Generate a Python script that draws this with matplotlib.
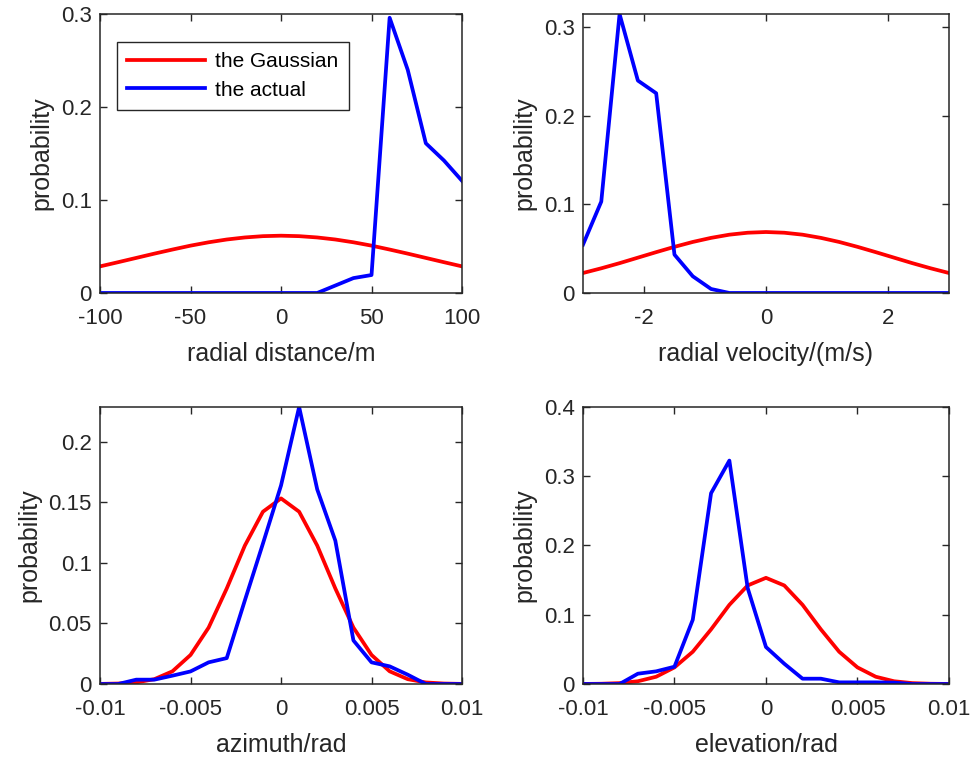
import numpy as np
import matplotlib.pyplot as plt
from matplotlib.ticker import FormatStrFormatter

plt.rcParams['font.family'] = ['Liberation Sans', 'DejaVu Sans']
plt.rcParams['axes.unicode_minus'] = False

# radial distance (m)
dist_x = [-100, -90, -80, -70, -60, -50, -40, -30, -20, -10, 0,
          10, 20, 30, 40, 50, 60, 70, 80, 90, 100]
dist_gauss = [0.0286, 0.0331, 0.0377, 0.0423, 0.0467, 0.0509, 0.0545, 0.0575, 0.0597, 0.0611, 0.0616,
              0.0611, 0.0597, 0.0575, 0.0545, 0.0509, 0.0467, 0.0423, 0.0377, 0.0331, 0.0286]
dist_actual = [0, 0, 0, 0, 0, 0, 0, 0, 0, 0, 0,
               0, 0, 0.008, 0.016, 0.0193, 0.296, 0.240, 0.161, 0.1425, 0.1206]

# radial velocity (m/s)
vel_x = [-3.0, -2.7, -2.4, -2.1, -1.8, -1.5, -1.2, -0.9, -0.6, -0.3, 0.0,
         0.3, 0.6, 0.9, 1.2, 1.5, 1.8, 2.1, 2.4, 2.7, 3.0]
vel_gauss = [0.0225, 0.0278, 0.0336, 0.0398, 0.0460, 0.0520, 0.0575, 0.0621, 0.0657, 0.0679, 0.0687,
             0.0679, 0.0657, 0.0621, 0.0575, 0.0520, 0.0460, 0.0398, 0.0336, 0.0278, 0.0225]
vel_actual = [0.0544, 0.103, 0.3144, 0.2394, 0.2251, 0.0432, 0.0188, 0.0045, 0, 0, 0,
              0, 0, 0, 0, 0, 0, 0, 0, 0, 0]

# angles (rad)
ang_x = [-0.010, -0.009, -0.008, -0.007, -0.006, -0.005, -0.004, -0.003, -0.002, -0.001, 0.0,
         0.001, 0.002, 0.003, 0.004, 0.005, 0.006, 0.007, 0.008, 0.009, 0.010]
ang_gauss = [0.0001, 0.0004, 0.0013, 0.0040, 0.0105, 0.0240, 0.0466, 0.0789, 0.1143, 0.1423, 0.1533,
             0.1423, 0.1143, 0.0789, 0.0466, 0.0240, 0.0105, 0.0040, 0.0013, 0.0004, 0.0001]
azi_actual = [0, 0, 0.0036, 0.0036, 0.0069, 0.0104, 0.0179, 0.0214, 0.069, 0.116, 0.164,
              0.2288, 0.1607, 0.1184, 0.036, 0.0179, 0.0146, 0.0077, 0, 0, 0]
ele_actual = [0, 0, 0, 0.0149, 0.0183, 0.025, 0.0928, 0.2755, 0.3226, 0.1385, 0.0534,
              0.0293, 0.0077, 0.0077, 0.0024, 0.0024, 0.0024, 0.002, 0, 0, 0]

fig = plt.figure(figsize=(9.77, 7.58), dpi=100)

panels = [
    ([0.1024, 0.6135, 0.3705, 0.3680], dist_x, dist_gauss, dist_actual, (-100, 100), (0, 0.3),
     [-100, -50, 0, 50, 100], [0, 0.1, 0.2, 0.3], 'radial distance/m'),
    ([0.5967, 0.6135, 0.3746, 0.3680], vel_x, vel_gauss, vel_actual, (-3, 3), (0, 0.3144),
     [-2, 0, 2], [0, 0.1, 0.2, 0.3], 'radial velocity/(m/s)'),
    ([0.1024, 0.0976, 0.3705, 0.3655], ang_x, ang_gauss, azi_actual, (-0.01, 0.01), (0, 0.2288),
     [-0.01, -0.005, 0, 0.005, 0.01], [0, 0.05, 0.1, 0.15, 0.2], 'azimuth/rad'),
    ([0.5967, 0.0976, 0.3746, 0.3655], ang_x, ang_gauss, ele_actual, (-0.01, 0.01), (0, 0.4),
     [-0.01, -0.005, 0, 0.005, 0.01], [0, 0.1, 0.2, 0.3, 0.4], 'elevation/rad'),
]

for i, (rect, x, g, a, xl, yl, xt, yt, lab) in enumerate(panels):
    ax = fig.add_axes(rect)
    ax.plot(x, g, color='#ff0000', lw=2.7, label='the Gaussian')
    ax.plot(x, a, color='#0000ff', lw=2.7, label='the actual')
    ax.set_xlim(xl)
    ax.set_ylim(yl)
    ax.set_xticks(xt)
    ax.set_yticks(yt)
    ax.xaxis.set_major_formatter(FormatStrFormatter('%g'))
    ax.yaxis.set_major_formatter(FormatStrFormatter('%g'))
    ax.tick_params(direction='in', top=True, right=True, labelsize=16,
                   length=5, width=1, colors='#262626')
    ax.tick_params(axis='x', pad=11)
    ax.tick_params(axis='y', pad=6)
    for s in ax.spines.values():
        s.set_color('#262626')
        s.set_linewidth(1.1)
    ax.set_xlabel(lab, fontsize=18, color='#262626', labelpad=9)
    ax.set_ylabel('probability', fontsize=18, color='#262626', labelpad=5)
    if i == 0:
        leg = ax.legend(loc='upper left', bbox_to_anchor=(0.047, 0.9), borderaxespad=0,
                        fontsize=15, handlelength=3.7, fancybox=False, framealpha=1,
                        edgecolor='#262626', borderpad=0.5, labelspacing=0.45,
                        handletextpad=0.5)
        leg.get_frame().set_linewidth(1.0)

fig.savefig('out.png', dpi=100)
